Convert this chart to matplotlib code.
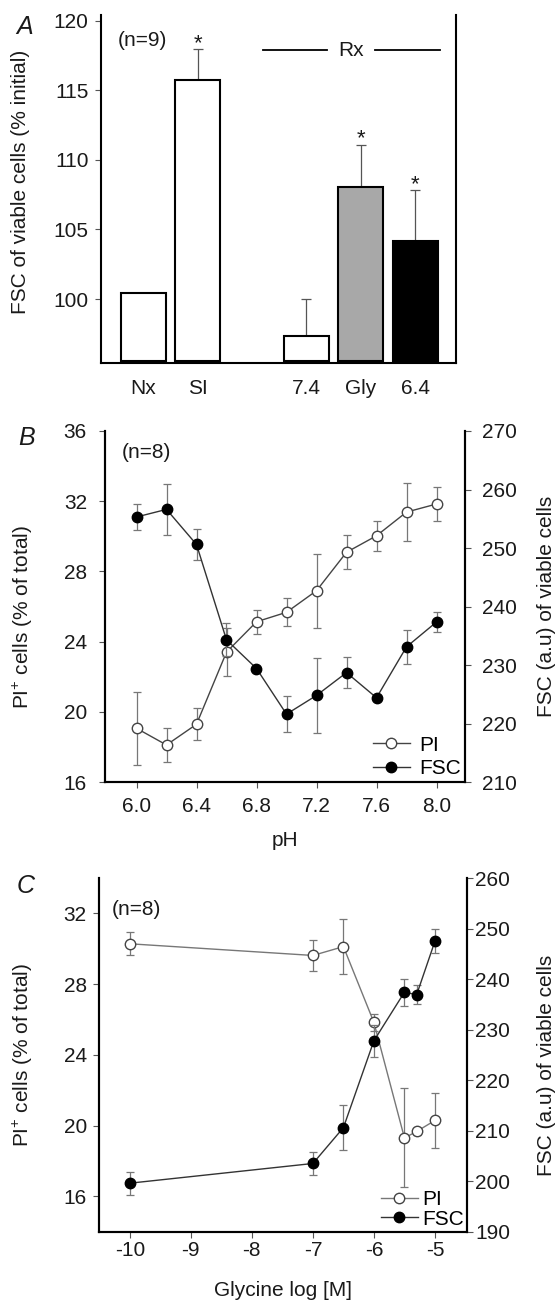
import numpy as np
import matplotlib
matplotlib.use("Agg")
import matplotlib.pyplot as plt
from matplotlib.lines import Line2D

plt.rcParams['font.family'] = ['Liberation Sans', 'DejaVu Sans']
plt.rcParams['font.size'] = 15
plt.rcParams['mathtext.fontset'] = 'custom'
plt.rcParams['mathtext.rm'] = 'Liberation Sans'
plt.rcParams['mathtext.default'] = 'regular'

# ---------------- data ----------------
# Panel A
conditions = ['Nx', 'SI', '7.4', 'Gly', '6.4']
fsc_pct = [100.45, 115.75, 97.35, 108.05, 104.2]
fsc_pct_err = [0.0, 2.2, 2.65, 3.05, 3.6]
significant = [False, True, False, True, True]
bar_colors = ['white', 'white', 'white', '#a8a8a8', 'black']
group_gap = [0, 0, 1, 1, 1]

# Panel B
ph = [6.0, 6.2, 6.4, 6.6, 6.8, 7.0, 7.2, 7.4, 7.6, 7.8, 8.0]
pi_b = [19.06, 18.11, 19.29, 23.4, 25.13, 25.67, 26.9, 29.09, 30.03, 31.38, 31.84]
pi_b_err = [2.07, 0.95, 0.9, 1.35, 0.67, 0.8, 2.1, 0.97, 0.85, 1.63, 0.99]
fsc_b = [255.3, 256.6, 250.6, 234.3, 229.4, 221.6, 224.8, 228.7, 224.4, 233.1, 237.35]
fsc_b_err = [2.3, 4.3, 2.6, 2.8, 0.5, 3.1, 6.4, 2.7, 0.4, 2.85, 1.7]

# Panel C
log_gly = [-10, -7, -6.5, -6, -5.5, -5.3, -5]
pi_c = [30.28, 29.62, 30.12, 25.83, 19.3, 19.67, 20.29]
pi_c_err = [0.64, 0.88, 1.55, 0.5, 2.8, 0.2, 1.57]
fsc_c = [199.6, 203.5, 210.6, 227.8, 237.4, 236.9, 247.5]
fsc_c_err = [2.3, 2.25, 4.5, 3.2, 2.65, 1.9, 2.4]

# ---------------- figure ----------------
W, H = 556, 1304
fig = plt.figure(figsize=(W / 100, H / 100), dpi=100)

TXT = '#1a1a1a'
SPINE_LW = 1.5


def rect(left, right, top, bottom):
    return [left / W, 1 - bottom / H, (right - left) / W, (bottom - top) / H]


def style_ticks(ax, pad_x, pad_y):
    ax.tick_params(axis='x', direction='out', length=4, width=0.8, color='#555',
                   pad=pad_x, labelcolor=TXT)
    ax.tick_params(axis='y', direction='out', length=4, width=0.8, color='#555',
                   pad=pad_y, labelcolor=TXT)


# ================= Panel A =================
axA = fig.add_axes(rect(101, 456, 15, 363.3))
xA = np.arange(len(conditions)) + np.array(group_gap)
ylimA = (95.38, 120.41)
base = ylimA[0] + 0.2
heights = np.array(fsc_pct) - base
axA.bar(xA, heights, bottom=base, width=0.83, color=bar_colors,
        edgecolor='black', linewidth=1.5, zorder=3)
errA = np.array(fsc_pct_err)
mask = errA > 0
axA.errorbar(xA[mask], np.array(fsc_pct)[mask],
             yerr=[np.zeros(mask.sum()), errA[mask]], fmt='none',
             ecolor='#555', elinewidth=0.9, capsize=3.5, capthick=0.9, zorder=2)
for xi, v, e, s in zip(xA, fsc_pct, fsc_pct_err, significant):
    if s:
        axA.annotate('*', xy=(xi, v + e), xytext=(0, 4), textcoords='offset points',
                     ha='center', va='center', fontsize=16, color=TXT)
axA.set_xlim(-0.78, 5.75)
axA.set_ylim(*ylimA)
axA.set_yticks([100, 105, 110, 115, 120])
axA.set_xticks(xA)
axA.set_xticklabels(conditions)
axA.spines['top'].set_visible(False)
for s in ['left', 'right', 'bottom']:
    axA.spines[s].set_linewidth(SPINE_LW)
style_ticks(axA, 11, 5)
axA.tick_params(axis='x', length=0)
axA.set_ylabel('FSC of viable cells (% initial)', color=TXT)
axA.yaxis.set_label_coords(-0.2, 0.52)
axA.text(0.118, 0.928, '(n=9)', transform=axA.transAxes, ha='center', va='center', color=TXT)
# Rx bracket
yr = 0.8995
axA.add_line(Line2D([0.4555, 0.6375], [yr, yr], transform=axA.transAxes, color='black', lw=1.3, clip_on=False))
axA.add_line(Line2D([0.772, 0.955], [yr, yr], transform=axA.transAxes, color='black', lw=1.3, clip_on=False))
axA.text(0.703, yr, 'Rx', transform=axA.transAxes, ha='center', va='center', color=TXT)
fig.text(25 / W, 1 - 27 / H, 'A', fontsize=18, style='italic', ha='center', va='center', color=TXT)


def dual_panel(rect_px, x, pi, pi_err, fsc, fsc_err, xlim, ylim_l, ylim_r,
               yticks_l, yticks_r, xticks, xticklabels, xlabel, padx, pady_l, pady_r,
               nlabel_pos, leg_kw, pi_line_color):
    ax = fig.add_axes(rect(*rect_px))
    ax2 = ax.twinx()
    ax.errorbar(x, pi, yerr=pi_err, fmt='none', ecolor='#777', elinewidth=0.9,
                capsize=3, capthick=0.9, zorder=2)
    l1, = ax.plot(x, pi, '-o', color=pi_line_color, lw=1.0, ms=7.5,
                  mfc='white', mec='#444', mew=1.0, zorder=3, label='PI')
    ax2.errorbar(x, fsc, yerr=fsc_err, fmt='none', ecolor='#777', elinewidth=0.9,
                 capsize=3, capthick=0.9, zorder=2)
    l2, = ax2.plot(x, fsc, '-o', color='#333', lw=1.0, ms=7.5,
                   mfc='black', mec='black', mew=1.0, zorder=3, label='FSC')
    ax.set_xlim(*xlim)
    ax.set_ylim(*ylim_l)
    ax2.set_ylim(*ylim_r)
    ax.set_yticks(yticks_l)
    ax2.set_yticks(yticks_r)
    ax.set_xticks(xticks)
    ax.set_xticklabels(xticklabels)
    for a in (ax, ax2):
        a.spines['top'].set_visible(False)
        for s in ['left', 'right', 'bottom']:
            a.spines[s].set_linewidth(SPINE_LW)
    style_ticks(ax, padx, pady_l)
    ax2.tick_params(axis='y', direction='out', length=4, width=0.8, color='#555',
                    pad=pady_r, labelcolor=TXT)
    ax.set_ylabel(r'PI$^{+}$ cells (% of total)', color=TXT)
    ax2.set_ylabel('FSC (a.u) of viable cells', color=TXT)
    ax.set_xlabel(xlabel, color=TXT)
    ax.text(nlabel_pos[0], nlabel_pos[1], '(n=8)', transform=ax.transAxes,
            ha='center', va='center', color=TXT)
    ax2.legend([l1, l2], ['PI', 'FSC'], loc='lower right', bbox_to_anchor=(1.0, 0.0),
               frameon=False, numpoints=1, **leg_kw)
    return ax, ax2


# ================= Panel B =================
axB, axB2 = dual_panel((105, 465, 431, 782), ph, pi_b, pi_b_err, fsc_b, fsc_b_err,
                       (5.79, 8.19), (16, 36), (210, 270),
                       [16, 20, 24, 28, 32, 36], [210, 220, 230, 240, 250, 260, 270],
                       [6.0, 6.4, 6.8, 7.2, 7.6, 8.0],
                       ['6.0', '6.4', '6.8', '7.2', '7.6', '8.0'], 'pH',
                       7, 9, 8, (0.114, 0.94),
                       dict(handlelength=1.75, handletextpad=0.45, labelspacing=0.2,
                            borderpad=0.1, borderaxespad=0.1),
                       '#444')
axB.yaxis.set_label_coords(-0.194, 0.47)
axB2.yaxis.set_label_coords(1.2, 0.5)
axB.xaxis.set_label_coords(0.5, -0.14)
fig.text(27 / W, 1 - 438 / H, 'B', fontsize=18, style='italic', ha='center', va='center', color=TXT)

# ================= Panel C =================
axC, axC2 = dual_panel((99.3, 466.7, 878, 1231.7), log_gly, pi_c, pi_c_err, fsc_c, fsc_c_err,
                       (-10.5, -4.48), (14, 34), (190, 260),
                       [16, 20, 24, 28, 32], [190, 200, 210, 220, 230, 240, 250, 260],
                       [-10, -9, -8, -7, -6, -5],
                       ['-10', '-9', '-8', '-7', '-6', '-5'], 'Glycine log [M]',
                       3, 5, 2, (0.1, 0.91),
                       dict(handlelength=1.75, handletextpad=0.2, labelspacing=0.02,
                            borderpad=0.05, borderaxespad=0.1),
                       '#777')
axC.yaxis.set_label_coords(-0.175, 0.5)
axC2.yaxis.set_label_coords(1.191, 0.47)
axC.xaxis.set_label_coords(0.5, -0.14)
fig.text(26 / W, 1 - 886 / H, 'C', fontsize=18, style='italic', ha='center', va='center', color=TXT)

fig.savefig('out.png', dpi=100, facecolor='white')
